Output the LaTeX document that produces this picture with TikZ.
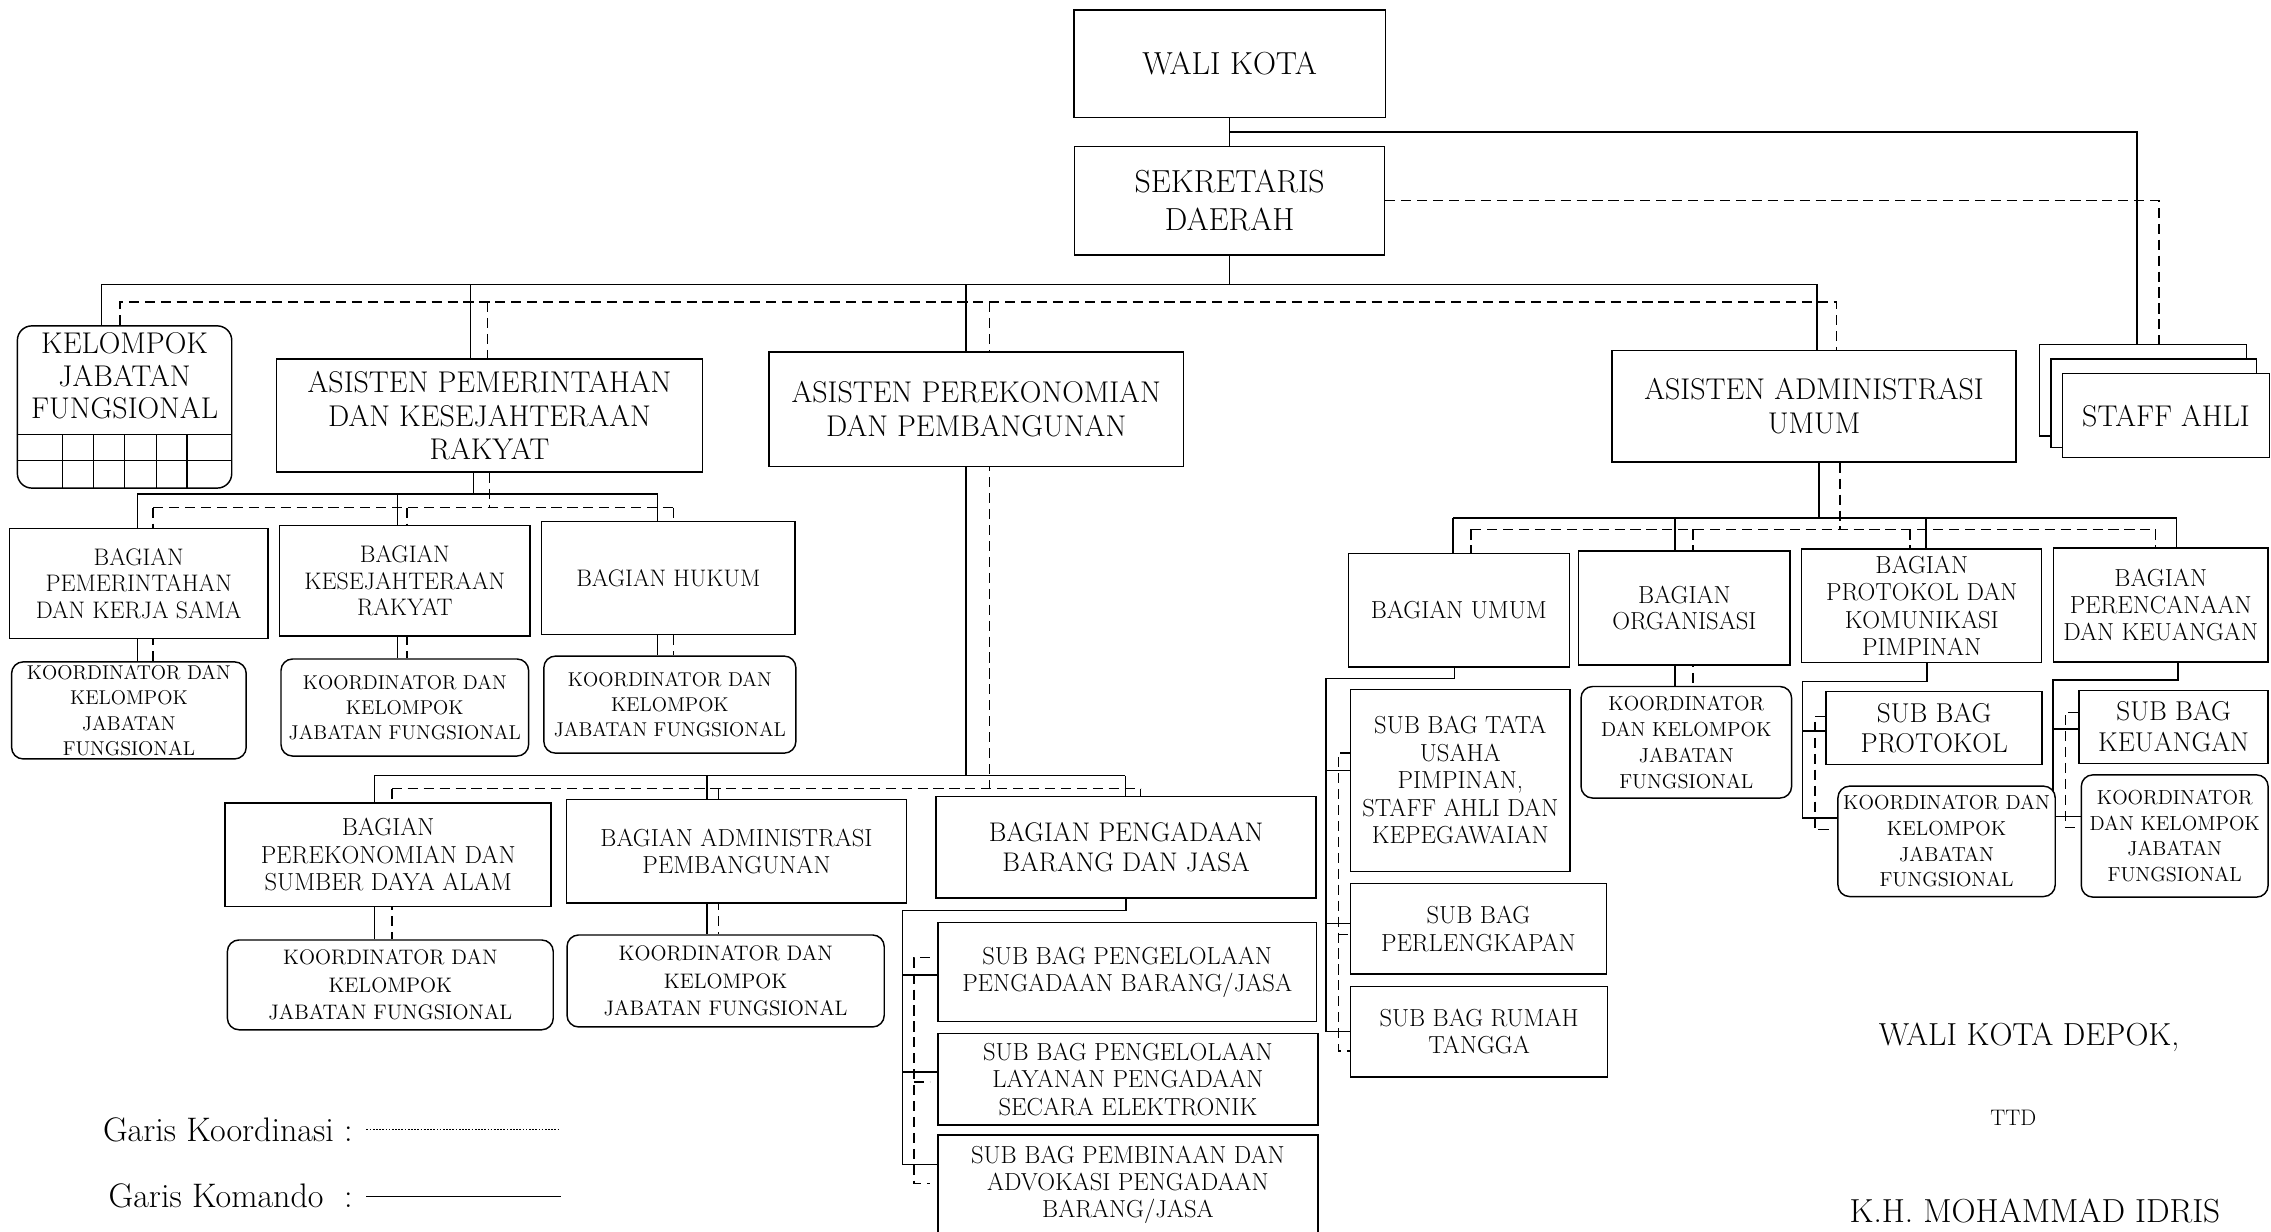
\documentclass[tikz,border=0pt]{standalone}
\usepackage{fontspec}
\usepackage{tikz}
\usetikzlibrary{calc}
\pgfdeclarelayer{bg}
\pgfsetlayers{bg,main}

\begin{document}
\begin{tikzpicture}[x=1pt, y=-1pt,
        box/.style={rectangle, draw=black, line width=1pt, fill=white, align=center, inner sep=0pt},
        rbox/.style={box, rounded corners=8pt},
        cmd/.style={line width=1pt},
        crd/.style={line width=1pt, dash pattern=on 7pt off 4pt},
        fTop/.style={font=\fontsize{20.7}{23}\selectfont},
        fBag/.style={font=\fontsize{16.5}{18.5}\selectfont},
        fSub/.style={font=\fontsize{17}{19}\selectfont},
        fKo/.style={font=\fontsize{13.8}{17.5}\selectfont},
        fKoB/.style={font=\fontsize{14.5}{19}\selectfont},
        fBig/.style={font=\fontsize{18.8}{21}\selectfont}]
    \useasboundingbox (0,0) rectangle (1568,850);
    \clip (0,0) rectangle (1568,850);

    % pimpinan
    \node[box, font=\fontsize{22}{26}\selectfont, minimum width=215, minimum height=74] (wali) at (849,44) {WALI KOTA};
    \node[box, font=\fontsize{22}{26.5}\selectfont, minimum width=214, minimum height=75] (sekda) at (849,138.5) {SEKRETARIS\\DAERAH};

    \node[box, minimum width=143, minimum height=63] (sa3) at (1479.5,269.5) {};
    \node[box, minimum width=142, minimum height=61] (sa2) at (1487,278.5) {};
    \node[box, fTop, minimum width=143, minimum height=58] (staff) at (1495.5,287) {STAFF AHLI};

    \node[rbox, rounded corners=10pt, minimum width=148, minimum height=112] (kjf) at (86,281) {};
    \node[fTop, font=\fontsize{20.7}{22.5}\selectfont, align=center] (kjft) at (86,259.5) {KELOMPOK\\JABATAN\\FUNGSIONAL};
    \foreach \gy in {300,318}
        \draw[cmd] (kjf.west |- 0,\gy) -- (kjf.east |- 0,\gy);
    \foreach \gx in {43,64.5,86,108,129}
        \draw[cmd] (\gx,300) -- (kjf.south -| \gx,0);

    \node[box, fTop, minimum width=294, minimum height=78] (asp) at (338,287) {ASISTEN PEMERINTAHAN\\DAN KESEJAHTERAAN\\RAKYAT};
    \node[box, fTop, minimum width=286, minimum height=79] (ape) at (674,282.5) {ASISTEN PEREKONOMIAN\\DAN PEMBANGUNAN};
    \node[box, fTop, minimum width=279, minimum height=77] (aau) at (1252.5,280.5) {ASISTEN ADMINISTRASI\\UMUM};

    % asisten pemerintahan
    \node[box, fBag, minimum width=178.5, minimum height=76] (bpk) at (95.75,403) {BAGIAN\\PEMERINTAHAN\\DAN KERJA SAMA};
    \node[box, fBag, minimum width=173, minimum height=76] (bks) at (279.5,401) {BAGIAN\\KESEJAHTERAAN\\RAKYAT};
    \node[box, fBag, minimum width=175, minimum height=78] (bhk) at (461.5,399) {BAGIAN HUKUM};
    \node[rbox, fKo, minimum width=162, minimum height=67] (kd1) at (89,490.5) {KOORDINATOR DAN\\KELOMPOK\\JABATAN\\FUNGSIONAL};
    \node[rbox, fKo, minimum width=171, minimum height=67] (kd2) at (279.5,488.5) {KOORDINATOR DAN\\KELOMPOK\\JABATAN FUNGSIONAL};
    \node[rbox, fKo, minimum width=174, minimum height=67] (kd3) at (462.5,486.5) {KOORDINATOR DAN\\KELOMPOK\\JABATAN FUNGSIONAL};

    % asisten perekonomian
    \node[box, fSub, minimum width=225, minimum height=71.5] (bpe) at (268,590.3) {BAGIAN\\PEREKONOMIAN DAN\\SUMBER DAYA ALAM};
    \node[box, fSub, minimum width=235, minimum height=71.5] (bap) at (508.5,587.8) {BAGIAN ADMINISTRASI\\PEMBANGUNAN};
    \node[box, font=\fontsize{18.6}{21}\selectfont, minimum width=262.5, minimum height=70] (bpbj) at (777.5,585) {BAGIAN PENGADAAN\\BARANG DAN JASA};
    \node[rbox, fKoB, minimum width=225, minimum height=62] (kd4) at (269.5,680) {KOORDINATOR DAN\\KELOMPOK\\JABATAN FUNGSIONAL};
    \node[rbox, fKoB, minimum width=219, minimum height=63.5] (kd5) at (501,677.3) {KOORDINATOR DAN\\KELOMPOK\\JABATAN FUNGSIONAL};
    \node[box, fSub, minimum width=261.5, minimum height=68.4] (sb1) at (778.25,671.2) {SUB BAG PENGELOLAAN\\PENGADAAN BARANG/JASA};
    \node[box, fSub, minimum width=262.5, minimum height=63.3] (sb2) at (778.75,745.2) {SUB BAG PENGELOLAAN\\LAYANAN PENGADAAN\\SECARA ELEKTRONIK};
    \node[box, fSub, font=\fontsize{17}{18.5}\selectfont, minimum width=262.5, minimum height=69] (sb3) at (778.75,818.2) {SUB BAG PEMBINAAN DAN\\ADVOKASI PENGADAAN\\BARANG/JASA};

    % asisten administrasi umum
    \node[box, fSub, minimum width=152.5, minimum height=78.6] (bum) at (1007.25,421.3) {BAGIAN UMUM};
    \node[box, fSub, font=\fontsize{17}{17.5}\selectfont, minimum width=146, minimum height=78.5] (bor) at (1163,419.75) {BAGIAN\\ORGANISASI};
    \node[box, fSub, font=\fontsize{17}{18.7}\selectfont, minimum width=165.7, minimum height=78.5] (bpr) at (1326.85,418.25) {BAGIAN\\PROTOKOL DAN\\KOMUNIKASI\\PIMPINAN};
    \node[box, fSub, font=\fontsize{17}{18.7}\selectfont, minimum width=148.3, minimum height=78.5] (bpc) at (1491.85,417.75) {BAGIAN\\PERENCANAAN\\DAN KEUANGAN};

    \node[box, fSub, minimum width=151.5, minimum height=125.7] (st1) at (1008.25,538.85) {SUB BAG TATA\\USAHA\\PIMPINAN,\\STAFF AHLI DAN\\KEPEGAWAIAN};
    \node[box, fSub, minimum width=176.5, minimum height=62.6] (st2) at (1020.75,641.3) {SUB BAG\\PERLENGKAPAN};
    \node[box, fSub, minimum width=177.5, minimum height=62.6] (st3) at (1021.25,712.3) {SUB BAG RUMAH\\TANGGA};
    \node[rbox, font=\fontsize{14}{18}\selectfont, minimum width=145.4, minimum height=77] (kd6) at (1164.3,512.5) {KOORDINATOR\\DAN KELOMPOK\\JABATAN\\FUNGSIONAL};
    \node[box, fBig, minimum width=149.2, minimum height=50.5] (sbp) at (1335.4,502.75) {SUB BAG\\PROTOKOL};
    \node[rbox, font=\fontsize{14}{17.7}\selectfont, minimum width=150, minimum height=76.2] (kd7) at (1344,580.9) {KOORDINATOR DAN\\KELOMPOK\\JABATAN\\FUNGSIONAL};
    \node[box, fBig, minimum width=130.5, minimum height=50.4] (sbk) at (1500.75,501.8) {SUB BAG\\KEUANGAN};
    \node[rbox, font=\fontsize{14}{17.5}\selectfont, minimum width=129, minimum height=84.4] (kd8) at (1501.5,577.2) {KOORDINATOR\\DAN KELOMPOK\\JABATAN\\FUNGSIONAL};

    \begin{pgfonlayer}{bg}
        % garis komando
        \draw[cmd] (wali.south) -- (sekda.north);
        \coordinate (j0) at ($(wali.south)!0.5!(sekda.north)$);
        \draw[cmd] (j0) -| ($(sa3.north)+(-4,0)$);
        \coordinate (bus0) at ($(sekda.south)+(0,20)$);
        \draw[cmd] (sekda.south) -- (bus0);
        \draw[cmd] ($(kjf.north)+(-16,0)$) |- (bus0) -| ($(aau.north)+(2,0)$);
        \draw[cmd] ($(bus0 -| asp.north)+(-13,0)$) -- ($(asp.north)+(-13,0)$);
        \coordinate (bus2) at ($(bpbj.north)+(0,-14)$);
        \draw[cmd] ($(bus0 -| ape.north)+(-7,0)$) -- ($(bus2 -| ape.north)+(-7,0)$);

        \coordinate (bus1) at ($(asp.south)+(0,14.5)$);
        \draw[cmd] ($(asp.south)+(-11,0)$) -- ($(bus1)+(-11,0)$);
        \draw[cmd] ($(bus1 -| bpk.north)+(-1,0)$) -- ($(bus1 -| bhk.north)+(-7.5,0)$);
        \foreach \bn/\kn/\dx in {bpk/kd1/-1, bks/kd2/-5, bhk/kd3/-7.5}
            \draw[cmd] ($(bus1 -| \bn.north)+(\dx,0)$) -- ($(\kn.north -| \bn.north)+(\dx,0)$);

        \draw[cmd] ($(bus2 -| bpe.north)+(-9.5,0)$) -- ($(bus2 -| bpbj.north)+(-0.5,0)$);
        \foreach \bn/\kn/\dx in {bpe/kd4/-9.5, bap/kd5/-20.5, bpbj/bpbj/-0.5}
            \draw[cmd] ($(bus2 -| \bn.north)+(\dx,0)$) -- ($(\kn.north -| \bn.north)+(\dx,0)$);
        \coordinate (t1) at ($(bpbj.south)+(0,8)$);
        \draw[cmd] (bpbj.south) -- (t1) -| ($(sb3.west)+(-24,-14)$) -- ($(sb3.west)+(0,-14)$);
        \foreach \sn/\dy in {sb1/2, sb2/-5}
            \draw[cmd] ($(\sn.west)+(-24,\dy)$) -- ($(\sn.west)+(0,\dy)$);

        \coordinate (bus3) at ($(aau.south)+(0,38)$);
        \draw[cmd] ($(aau.south)+(3.5,0)$) -- ($(bus3)+(3.5,0)$);
        \draw[cmd] ($(bus3 -| bum.north)+(-4,0)$) -- ($(bus3 -| bpc.north)+(11,0)$);
        \foreach \bn/\kn/\dx in {bum/bum/-4, bor/kd6/-6.5, bpr/bpr/3, bpc/bpc/11}
            \draw[cmd] ($(bus3 -| \bn.north)+(\dx,0)$) -- ($(\kn.north -| \bn.north)+(\dx,0)$);
        \coordinate (t2) at ($(bum.south)+(-3,7.5)$);
        \draw[cmd] ($(bum.south)+(-3,0)$) -- (t2) -| ($(st3.west)+(-16.5,0)$) -- (st3.west);
        \foreach \sn/\dy in {st1/-7, st2/-3.5}
            \draw[cmd] ($(\sn.west)+(-16.5,\dy)$) -- ($(\sn.west)+(0,\dy)$);
        \coordinate (t3) at ($(bpr.south)+(3.75,12.5)$);
        \draw[cmd] ($(bpr.south)+(3.75,0)$) -- (t3) -| ($(kd7.west)+(-24,-16)$) -- ($(kd7.west)+(0,-16)$);
        \draw[cmd] ($(sbp.west)+(-16,2)$) -- ($(sbp.west)+(0,2)$);
        \coordinate (t4) at ($(bpc.south)+(12,12)$);
        \draw[cmd] ($(bpc.south)+(12,0)$) -- (t4) -| ($(kd8.west)+(-19,-13.5)$) -- ($(kd8.west)+(0,-13.5)$);
        \draw[cmd] ($(sbk.west)+(-17.5,1.5)$) -- ($(sbk.west)+(0,1.5)$);

        % garis koordinasi
        \draw[crd] (sekda.east) -| ($(sa3.north)+(11,0)$);
        \coordinate (bus0d) at ($(bus0)+(0,12)$);
        \draw[crd] ($(kjf.north)+(-3,0)$) |- ($(bus0d -| aau.north)+(15.5,0)$) -- ($(aau.north)+(15.5,0)$);
        \draw[crd] ($(bus0d -| asp.north)+(-1.5,0)$) -- ($(asp.north)+(-1.5,0)$);
        \coordinate (bus2d) at ($(bus2)+(0,9)$);
        \draw[crd] ($(bus0d -| ape.north)+(9,0)$) -- ($(bus2d -| ape.north)+(9,0)$);

        \coordinate (bus1d) at ($(bus1)+(0,9.5)$);
        \draw[crd] (asp.south) -- (bus1d);
        \draw[crd] ($(bus1d -| bpk.north)+(10,0)$) -- ($(bus1d -| bhk.north)+(3.5,0)$);
        \foreach \bn/\kn/\dx in {bpk/kd1/10, bks/kd2/1.5, bhk/kd3/3.5}
            \draw[crd] ($(bus1d -| \bn.north)+(\dx,0)$) -- ($(\kn.north -| \bn.north)+(\dx,0)$);

        \draw[crd] ($(bus2d -| bpe.north)+(2.5,0)$) -- ($(bus2d -| bpbj.north)+(10,0)$);
        \foreach \bn/\kn/\dx in {bpe/kd4/2.5, bap/kd5/-12.5, bpbj/bpbj/10}
            \draw[crd] ($(bus2d -| \bn.north)+(\dx,0)$) -- ($(\kn.north -| \bn.north)+(\dx,0)$);
        \draw[crd] ($(sb1.west)+(-5,-10)$) -| ($(sb3.west)+(-16,-1)$) -- ($(sb3.west)+(-5,-1)$);
        \draw[crd] ($(sb2.west)+(-16,2)$) -- ($(sb2.west)+(-5,2)$);

        \coordinate (bus3d) at ($(bus3)+(0,8)$);
        \draw[crd] ($(aau.south)+(18,0)$) -- ($(bus3d)+(18,0)$);
        \draw[crd] ($(bus3d -| bum.north)+(8.5,0)$) -- ($(bus3d -| bpc.north)+(-3.5,0)$);
        \foreach \bn/\kn/\dx in {bum/bum/8.5, bor/kd6/6, bpr/bpr/-8, bpc/bpc/-3.5}
            \draw[crd] ($(bus3d -| \bn.north)+(\dx,0)$) -- ($(\kn.north -| \bn.north)+(\dx,0)$);
        \draw[crd] ($(st1.west)+(0,-19)$) -| ($(st3.west)+(-8,13.5)$) -- ($(st3.west)+(0,13.5)$);
        \draw[crd] ($(st2.west)+(-8,4)$) -- ($(st2.west)+(0,4)$);
        \draw[crd] ($(sbp.west)+(0,-8)$) -| ($(kd7.west)+(-15.5,-8)$) -- ($(kd7.west)+(-4,-8)$);
        \draw[crd] ($(sbk.west)+(0,-10)$) -| ($(kd8.west)+(-10.5,-6)$) -- ($(kd8.west)+(0,-6)$);
    \end{pgfonlayer}

    % keterangan
    \node[font=\fontsize{23.5}{26}\selectfont, anchor=east] (lgk) at (247,780) {Garis Koordinasi :};
    \node[font=\fontsize{23.5}{26}\selectfont, anchor=east] (lgm) at (247,826) {Garis Komando~~:};
    \draw[line width=0.6pt, dash pattern=on 1.2pt off 1pt] ($(lgk.east)+(6,0)$) -- ($(lgk.east)+(140,0)$);
    \draw[line width=0.8pt] ($(lgm.east)+(6,0)$) -- ($(lgm.east)+(140,0)$);

    \node[font=\fontsize{22}{26}\selectfont] (ttd1) at (1401,716) {WALI KOTA DEPOK,};
    \node[font=\fontsize{15.5}{18}\selectfont] (ttd2) at (1390,772) {TTD};
    \node[font=\fontsize{23}{26}\selectfont] (ttd3) at (1405,836) {K.H. MOHAMMAD IDRIS};
\end{tikzpicture}
\end{document}
